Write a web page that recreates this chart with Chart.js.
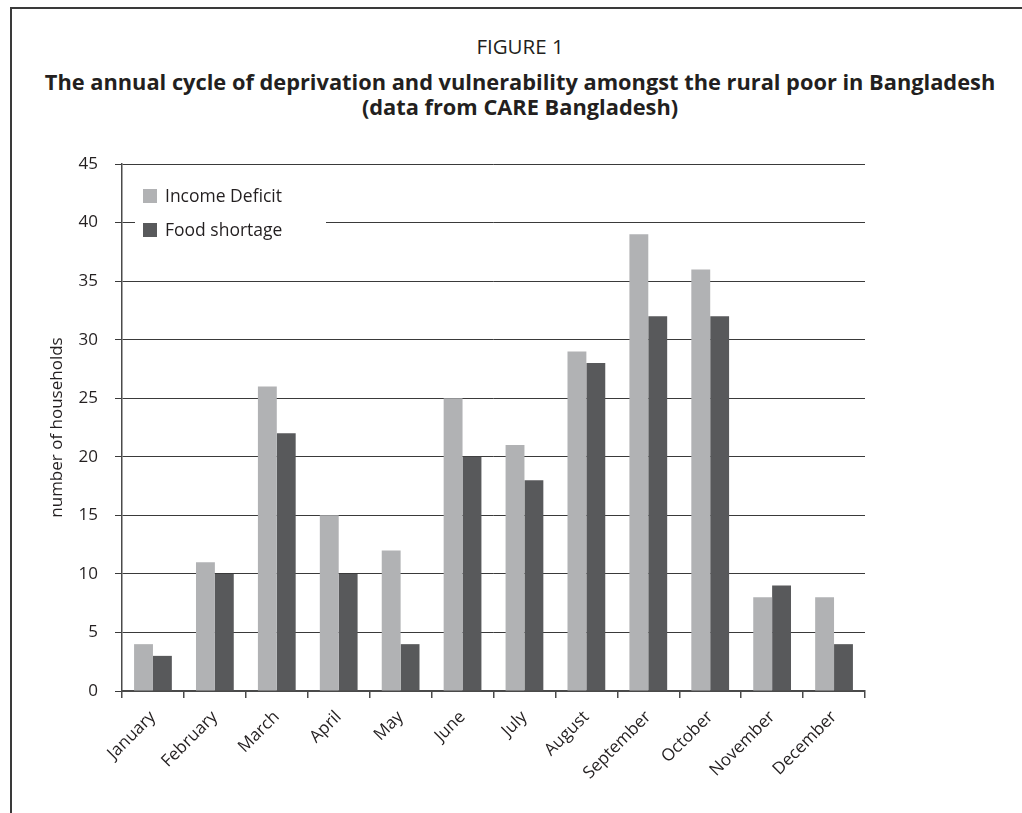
<!DOCTYPE html>
<html>
<head>
<meta charset="utf-8">
<title>Annual cycle of deprivation and vulnerability</title>
<script src="https://cdn.jsdelivr.net/npm/chart.js@4.4.1/dist/chart.umd.min.js"></script>
<style>
  html, body { margin: 0; padding: 0; background: #fff; width: 1022px; height: 813px; overflow: hidden; }
  #frame { position: absolute; left: 10px; top: 7px; width: 1100px; height: 900px;
           border-left: 2px solid #3a3a3a; border-top: 2px solid #3a3a3a; box-sizing: border-box; }
  .hd { position: absolute; left: 0; width: 1040px; text-align: center; color: #231f20;
        font-family: "Open Sans", "Noto Sans", sans-serif; white-space: nowrap; }
  #fig { top: 36px; font-size: 20.5px; line-height: 20px; }
  #t1  { top: 72px; font-size: 21.8px; line-height: 20px; font-weight: 700; }
  #t2  { top: 97px; font-size: 21.8px; line-height: 20px; font-weight: 700; }
  #chart { position: absolute; left: 0; top: 0; }
</style>
</head>
<body>
<div id="frame"></div>
<div class="hd" id="fig">FIGURE 1</div>
<div class="hd" id="t1">The annual cycle of deprivation and vulnerability amongst the rural poor in Bangladesh</div>
<div class="hd" id="t2">(data from CARE Bangladesh)</div>
<canvas id="chart" width="1022" height="813"></canvas>
<script>
// Months on the category axis
const months = ['January', 'February', 'March', 'April', 'May', 'June',
                'July', 'August', 'September', 'October', 'November', 'December'];

// Number of households affected each month
const incomeDeficit = [4, 11, 26, 15, 12, 25, 21, 29, 39, 36, 8, 8];
const foodShortage  = [3, 10, 22, 10, 4, 20, 18, 28, 32, 32, 9, 4];

const seriesNames  = ['Income Deficit', 'Food shortage'];
const seriesColors = ['#b1b2b4', '#58595b'];

// Value axis range
const yMin = 0;
const yMax = 45;
const yStep = 5;

const yTitle = 'number of households';

const textColor = '#231f20';
const fontFamily = '"Open Sans", "Noto Sans", sans-serif';

// Legend drawn inside the plot, on a white panel that hides the grid behind it
const insetLegend = {
  id: 'insetLegend',
  afterDatasetsDraw(chart, args, opts) {
    const { ctx, chartArea } = chart;
    const x0 = chartArea.left + opts.offsetX;
    const y0 = chartArea.top + opts.offsetY;
    ctx.save();
    ctx.fillStyle = '#ffffff';
    ctx.fillRect(chartArea.left + opts.panelLeft, y0 - opts.panelPad,
                 opts.panelWidth, opts.rowGap * chart.data.datasets.length + opts.panelPad);
    ctx.font = opts.font;
    ctx.textBaseline = 'middle';
    ctx.textAlign = 'left';
    chart.data.datasets.forEach((ds, i) => {
      const y = y0 + i * opts.rowGap;
      ctx.fillStyle = ds.backgroundColor;
      ctx.fillRect(x0, y, opts.box, opts.box);
      ctx.fillStyle = textColor;
      ctx.fillText(ds.label, x0 + opts.box + opts.gap, y + opts.box / 2 + 1);
    });
    ctx.restore();
  }
};

new Chart(document.getElementById('chart'), {
  type: 'bar',
  data: {
    labels: months,
    datasets: [
      { label: seriesNames[0], data: incomeDeficit, backgroundColor: seriesColors[0] },
      { label: seriesNames[1], data: foodShortage,  backgroundColor: seriesColors[1] }
    ]
  },
  options: {
    responsive: false,
    animation: false,
    events: [],
    layout: { padding: { top: 164, right: 157, bottom: 0, left: 43 } },
    datasets: { bar: { categoryPercentage: 0.61, barPercentage: 1.0, borderWidth: 0 } },
    plugins: {
      legend: { display: false },
      tooltip: { enabled: false },
      insetLegend: {
        offsetX: 21, offsetY: 25, rowGap: 34, box: 14, gap: 8,
        panelLeft: 13, panelWidth: 191, panelPad: 11,
        font: '17.5px ' + fontFamily
      }
    },
    scales: {
      x: {
        afterFit(scale) { scale.height = 122; },
        border: { display: true, color: '#4a4a4a', width: 2 },
        grid: { display: true, drawOnChartArea: false, drawTicks: true, tickLength: 7,
                offset: true, color: '#4a4a4a', lineWidth: 1.5 },
        ticks: { color: textColor, font: { family: fontFamily, size: 17 },
                 minRotation: 45, maxRotation: 45, autoSkip: false, padding: 9 }
      },
      y: {
        min: yMin, max: yMax,
        afterFit(scale) { scale.width = 79; },
        border: { display: true, color: '#4a4a4a', width: 1.5 },
        grid: { color: '#3a3a3a', lineWidth: 1, drawTicks: true, tickLength: 7 },
        ticks: { stepSize: yStep, color: textColor, padding: 17,
                 font: { family: fontFamily, size: 17 } },
        title: { display: true, text: yTitle, color: textColor,
                 font: { family: fontFamily, size: 17 }, padding: { top: 4, bottom: 4 } }
      }
    }
  },
  plugins: [insetLegend]
});
</script>
</body>
</html>
